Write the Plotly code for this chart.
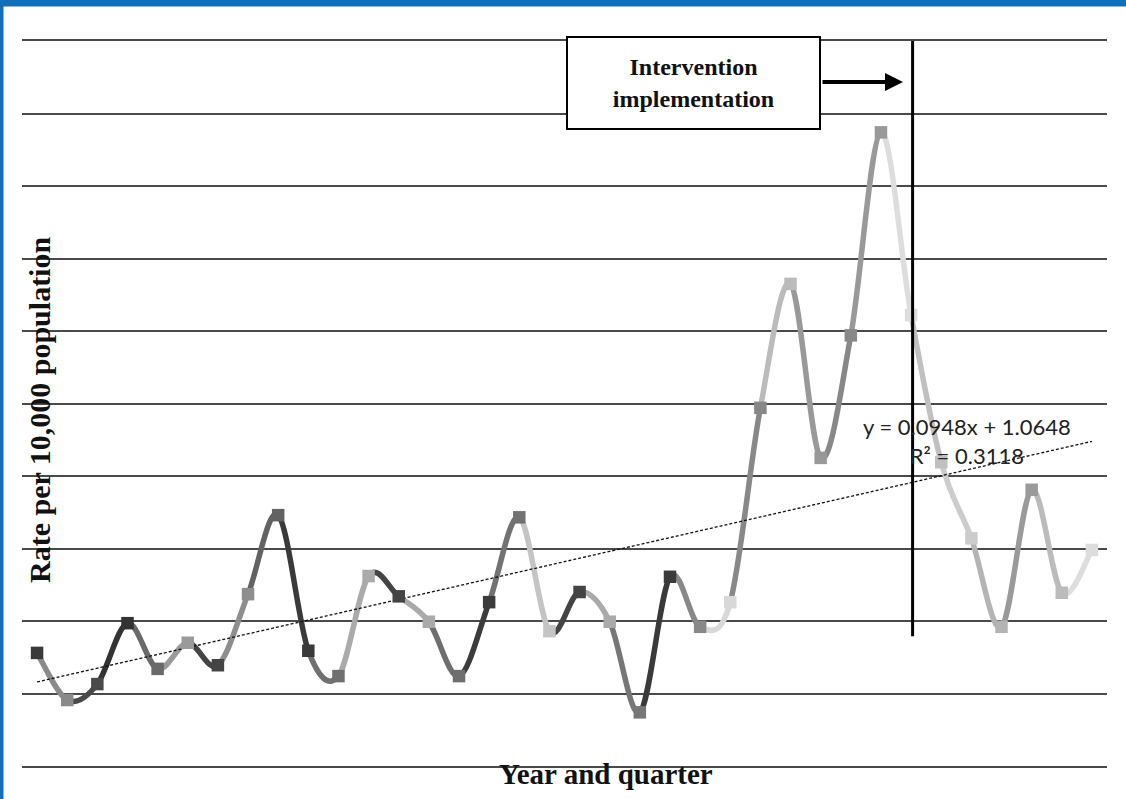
import plotly.graph_objects as go

# ---- data ----
quarters = list(range(1, 37))
rates = [1.56, 0.91, 1.13, 1.97, 1.34, 1.70, 1.39, 2.37, 3.46, 1.59,
         1.24, 2.62, 2.34, 1.99, 1.24, 2.26, 3.43, 1.86, 2.40, 1.99,
         0.74, 2.61, 1.92, 2.26, 4.94, 6.65, 4.25, 5.94, 8.74, 6.22,
         4.19, 3.14, 1.92, 3.81, 2.39, 2.98]
trend_slope = 0.0948
trend_intercept = 1.0648
trend_r2 = 0.3118
intervention_quarter = 30.05
intervention_line_bottom = 1.79

# ---- styles (per point shade, Excel "vary colours by point") ----
point_colors = ["#3a3a3a", "#8a8a8a", "#4a4a4a", "#333333", "#6a6a6a", "#9a9a9a",
                "#444444", "#8e8e8e", "#626262", "#3a3a3a", "#707070", "#aaaaaa",
                "#444444", "#aaaaaa", "#6e6e6e", "#3c3c3c", "#727272", "#c4c4c4",
                "#444444", "#aaaaaa", "#777777", "#3a3a3a", "#888888", "#d8d8d8",
                "#888888", "#bbbbbb", "#999999", "#888888", "#999999", "#dddddd",
                "#c0c0c0", "#cccccc", "#b4b4b4", "#9a9a9a", "#bbbbbb", "#dddddd"]

W, H = 1126, 799
L, R, T, B = 22, 19, 41, 33
PW, PH = W - L - R, H - T - B


def px(xp):
    return (xp - L) / PW


def py(yp):
    return (H - B - yp) / PH


fig = go.Figure()

# smoothed line segments (Catmull-Rom style Bezier, like Excel smoothing)
n = len(rates)
shapes = []
for i in range(n - 1):
    x0, y0 = quarters[i], rates[i]
    x1, y1 = quarters[i + 1], rates[i + 1]
    xm, ym = (quarters[i - 1], rates[i - 1]) if i > 0 else (x0, y0)
    xp2, yp2 = (quarters[i + 2], rates[i + 2]) if i + 2 < n else (x1, y1)
    c1x, c1y = x0 + (x1 - xm) / 6, y0 + (y1 - ym) / 6
    c2x, c2y = x1 - (xp2 - x0) / 6, y1 - (yp2 - y0) / 6
    shapes.append(dict(
        type="path", xref="x", yref="y", layer="between",
        path=f"M {x0},{y0} C {c1x},{c1y} {c2x},{c2y} {x1},{y1}",
        line=dict(color=point_colors[i + 1], width=5.5),
    ))

# intervention vertical line
shapes.append(dict(type="line", xref="x", yref="y",
                   x0=intervention_quarter, x1=intervention_quarter,
                   y0=intervention_line_bottom, y1=10,
                   line=dict(color="black", width=3), layer="above"))

# blue frame pieces
shapes.append(dict(type="rect", xref="paper", yref="paper",
                   x0=px(0), x1=px(3.5), y0=py(H), y1=py(0),
                   fillcolor="#0f6fba", line=dict(width=0), layer="above"))
shapes.append(dict(type="rect", xref="paper", yref="paper",
                   x0=px(0), x1=px(W), y0=py(6.5), y1=py(0),
                   fillcolor="#0f6fba", line=dict(width=0), layer="above"))

# trend line
tx = [quarters[0], quarters[-1]]
ty = [trend_slope * v + trend_intercept for v in tx]
fig.add_trace(go.Scatter(x=tx, y=ty, mode="lines",
                         line=dict(color="#111111", width=1.3, dash="3px,2px"),
                         hoverinfo="skip", showlegend=False))

# markers
fig.add_trace(go.Scatter(x=quarters, y=rates, mode="markers",
                         marker=dict(symbol="square", size=12.5, color=point_colors,
                                     line=dict(width=0)),
                         showlegend=False))

serif = "Liberation Serif, Times New Roman, serif"
annotations = [
    dict(xref="paper", yref="paper", x=px(39), y=py(410),
         text="<b>Rate per 10,000 population</b>", textangle=-90, showarrow=False,
         font=dict(family=serif, size=30, color="#111111"),
         xanchor="center", yanchor="middle"),
    dict(xref="paper", yref="paper", x=px(606), y=py(774),
         text="<b>Year and quarter</b>", showarrow=False,
         font=dict(family=serif, size=29, color="#111111"),
         xanchor="center", yanchor="middle"),
    dict(xref="paper", yref="paper", x=px(693.5), y=py(83),
         text="<b>Intervention</b><br><b>implementation</b>", showarrow=False,
         font=dict(family=serif, size=24, color="#111111"),
         xanchor="center", yanchor="middle", width=251, height=90,
         bordercolor="black", borderwidth=2, borderpad=0, bgcolor="white"),
    dict(xref="paper", yref="paper", x=px(903), y=py(82),
         ax=-82, ay=0, axref="pixel", ayref="pixel", text="",
         showarrow=True, arrowhead=2, arrowsize=0.9, arrowwidth=4, arrowcolor="black"),
    dict(xref="paper", yref="paper", x=px(967), y=py(441),
         text=f"y = {trend_slope}x + {trend_intercept}<br>R² = {trend_r2}",
         showarrow=False, align="center",
         font=dict(family="Lato, Liberation Sans, sans-serif", size=22, color="#222222"),
         xanchor="center", yanchor="middle"),
]

fig.update_layout(
    width=W, height=H, autosize=False,
    margin=dict(l=L, r=R, t=T, b=B),
    paper_bgcolor="white", plot_bgcolor="white",
    shapes=shapes, annotations=annotations,
    showlegend=False,
    xaxis=dict(range=[0.5, 36.5], showgrid=False, zeroline=False,
               showline=True, mirror=True, linecolor="#4a4a4a", linewidth=1.5,
               showticklabels=False, ticks=""),
    yaxis=dict(range=[0, 10], dtick=1, showgrid=True, gridcolor="#4a4a4a", gridwidth=1.5,
               zeroline=False, showline=False, showticklabels=False, ticks=""),
)

fig.write_html("out.html", config={"displayModeBar": False},
               post_script="document.body.style.margin='0';document.body.style.padding='0';")
